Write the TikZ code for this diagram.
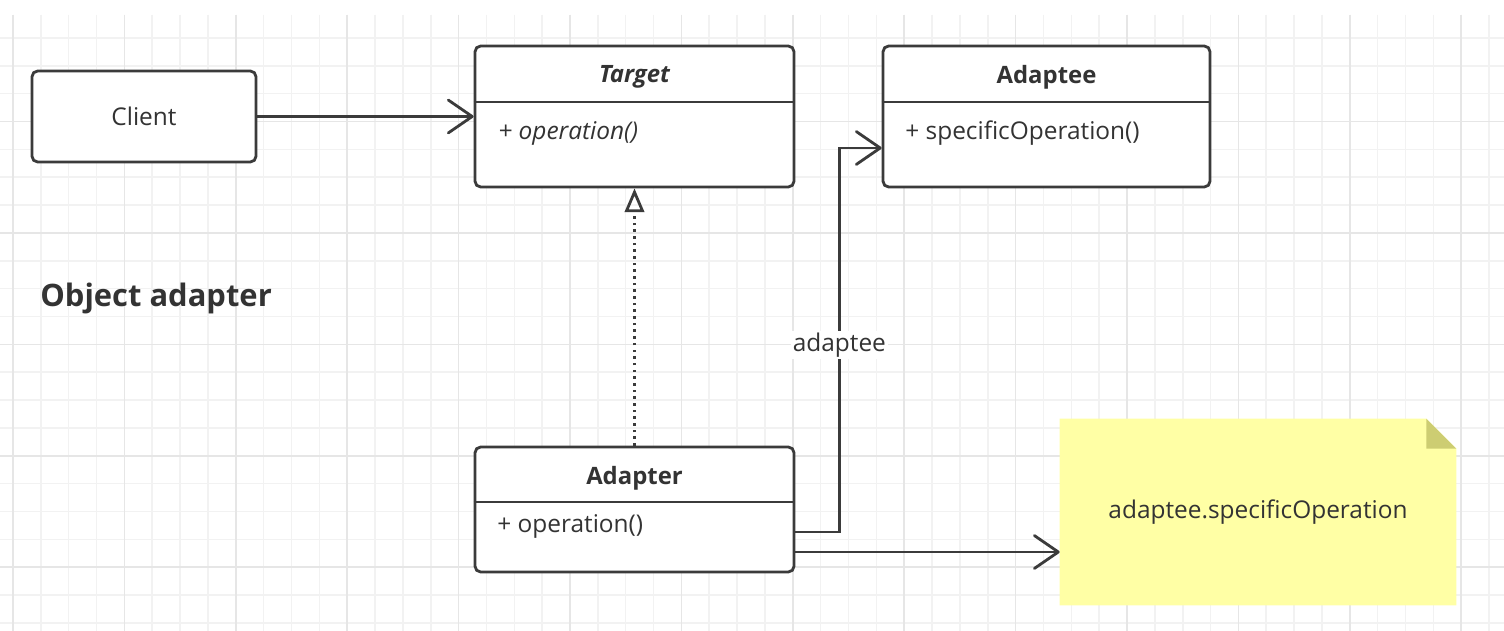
\documentclass[tikz,border=0pt]{standalone}
\usepackage{fontspec}
\setmainfont{Open Sans}
\usetikzlibrary{arrows.meta,calc,backgrounds}

\definecolor{umlline}{HTML}{3B3B3B}
\definecolor{umltext}{HTML}{333333}
\definecolor{gridminor}{HTML}{F2F2F2}
\definecolor{gridmajor}{HTML}{E6E6E6}
\definecolor{notefill}{HTML}{FFFFA5}
\definecolor{notefold}{HTML}{CDCD72}

\tikzset{
	classbox/.style={draw=umlline, line width=1.6pt, rounded corners=3.2pt, fill=white},
	boxtext/.style={text=umltext, inner sep=0pt, font=\fontsize{13.9}{16}\selectfont},
	classname/.style={boxtext, font=\fontsize{13.6}{16}\selectfont\bfseries},
	member/.style={boxtext, anchor=west},
	assoc/.style={draw=umlline, line width=1.6pt, -{Straight Barb[round,length=13.6pt,width=18.7pt]}},
	realize/.style={draw=umlline, line width=1.3pt, dash pattern=on 1.5pt off 2.3pt,
		-{Triangle[open,length=13.5pt,width=11pt,line width=1.6pt]}},
}

\begin{document}
\begin{tikzpicture}[x=0.02cm, y=-0.02cm]
	
	\useasboundingbox (0,0) rectangle (1504,631);
	
	% Grid
	\begin{scope}[on background layer]
		\fill[white] (0,0) rectangle (1504,631);
		\foreach \k in {0,...,53}
			\draw[gridminor, line width=0.9pt] (13+27.85*\k,15) -- (13+27.85*\k,631);
		\foreach \k in {0,...,21}
			\draw[gridminor, line width=0.9pt] (0,38+27.85*\k) -- (1504,38+27.85*\k);
		\foreach \k in {0,4,...,52}
			\draw[gridmajor, line width=0.9pt] (13+27.85*\k,15) -- (13+27.85*\k,631);
		\foreach \k in {3,7,...,19}
			\draw[gridmajor, line width=0.9pt] (0,38+27.85*\k) -- (1504,38+27.85*\k);
	\end{scope}
	
	% Client
	\node[classbox, minimum width=4.48cm, minimum height=1.82cm, boxtext] (client) at (144,116.5) {Client};
	
	% Target
	\node[classbox, minimum width=6.38cm, minimum height=2.82cm] (target) at (634.5,116.5) {};
	\draw[umlline, line width=1.6pt] (target.west |- 0,102) -- (target.east |- 0,102);
	\node[classname, font=\fontsize{13.6}{16}\selectfont\bfseries\itshape] (target-name) at (634.5,77) {Target};
	\node[member, font=\fontsize{13.9}{16}\selectfont\itshape] (target-op) at (498,133) {+ operation()};
	
	% Adaptee
	\node[classbox, minimum width=6.54cm, minimum height=2.82cm] (adaptee) at (1046.5,116.5) {};
	\draw[umlline, line width=1.6pt] (adaptee.west |- 0,102) -- (adaptee.east |- 0,102);
	\node[classname] (adaptee-name) at (1046.5,77) {Adaptee};
	\node[member] (adaptee-op) at (905,133) {+ specificOperation()};
	
	% Adapter
	\node[classbox, minimum width=6.38cm, minimum height=2.5cm] (adapter) at (634.5,509.5) {};
	\draw[umlline, line width=1.6pt] (adapter.west |- 0,502) -- (adapter.east |- 0,502);
	\node[classname] (adapter-name) at (634.5,478) {Adapter};
	\node[member] (adapter-op) at (497,526) {+ operation()};
	
	% Note
	\node[minimum width=7.92cm, minimum height=3.72cm, boxtext] (note) at (1258,512) {adaptee.specificOperation};
	\begin{scope}[on background layer]
		\fill[notefill] (note.south west) -- (note.south east) -- ($(note.north east)+(0,30)$)
			-- ($(note.north east)+(-30,0)$) -- (note.north west) -- cycle;
		\fill[notefold] ($(note.north east)+(-30,0)$) -- ($(note.north east)+(0,30)$)
			-- ($(note.north east)+(-30,30)$) -- cycle;
	\end{scope}
	
	% Title
	\node[boxtext, anchor=west, font=\fontsize{17.6}{20}\selectfont\bfseries] (title) at (40,298) {Object adapter};
	
	% Connectors
	\coordinate (adapter-out) at ($(adapter.east)+(0,22.5)$);
	\coordinate (adapter-note) at ($(adapter.east)+(0,42.5)$);
	\coordinate (adaptee-in) at ($(adaptee.west)+(0,31.5)$);
	\draw[assoc] (client.east) -- (target.west);
	\draw[realize] (adapter.north) -- (target.south);
	\draw[assoc] (adapter-out) -- ++(44,0) |- node[pos=0.243, fill=white, boxtext, inner sep=1pt] (adaptee-label) {adaptee} (adaptee-in);
	\draw[assoc] (adapter-note) -- (note.west |- adapter-note);
	
\end{tikzpicture}
\end{document}
